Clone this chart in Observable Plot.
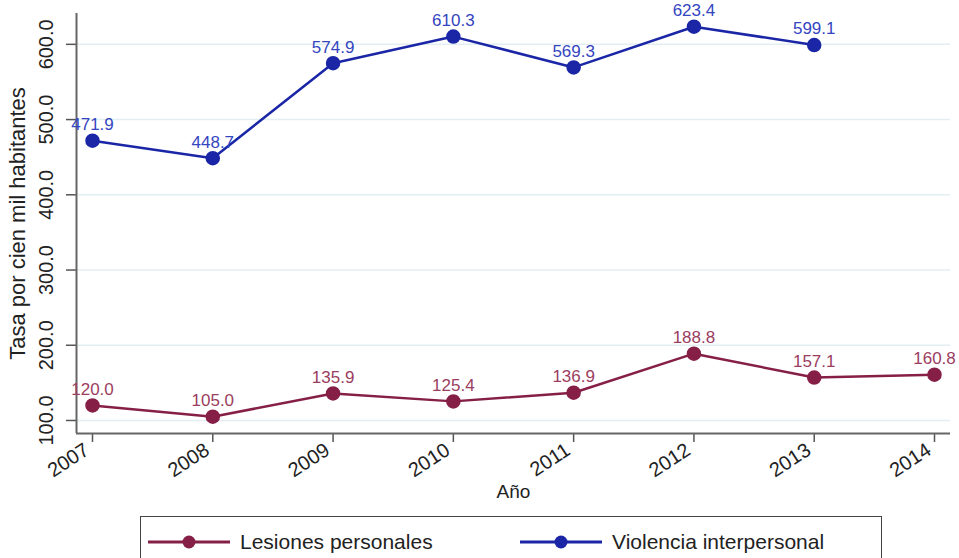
<!DOCTYPE html>
<html><head><meta charset="utf-8">
<script src="https://cdn.jsdelivr.net/npm/d3@7"></script>
<script src="https://cdn.jsdelivr.net/npm/@observablehq/plot@0.6"></script>
<style>
body{margin:0;background:#fff;font-family:"Liberation Sans",Arial,sans-serif;}
#legend{position:relative;margin-left:140px;width:742px;height:60px;border:1.5px solid #444;border-bottom:none;margin-top:4px;box-sizing:border-box;}
.item{position:absolute;top:13px;display:flex;align-items:center;font-size:21px;color:#222;}
.item svg{margin-right:10px;}
</style></head>
<body>
<div id="chart"></div>
<div id="legend"></div>
<script>
const years = [2007, 2008, 2009, 2010, 2011, 2012, 2013, 2014];
const lesiones = [120.0, 105.0, 135.9, 125.4, 136.9, 188.8, 157.1, 160.8];
const violenciaYears = [2007, 2008, 2009, 2010, 2011, 2012, 2013];
const violencia = [471.9, 448.7, 574.9, 610.3, 569.3, 623.4, 599.1];
const yTicks = [100, 200, 300, 400, 500, 600];
const seriesNames = ["Lesiones personales", "Violencia interpersonal"];
const lineColors = ["#861f46", "#1a26a6"];
const labelColors = ["#9b3d60", "#3445c0"];

const les = years.map((y, i) => ({year: y, value: lesiones[i]}));
const vio = violenciaYears.map((y, i) => ({year: y, value: violencia[i]}));

const xDomain = [2006.867, 2014.133];
const yDomain = [82.7, 641];

const chart = Plot.plot({
  width: 959,
  height: 512,
  marginLeft: 76,
  marginRight: 9,
  marginTop: 13,
  marginBottom: 79,
  style: {fontFamily: '"Liberation Sans", Arial, sans-serif', background: "#fff"},
  x: {domain: xDomain},
  y: {domain: yDomain},
  marks: [
    Plot.ruleY(yTicks, {stroke: "#e3eef2", strokeWidth: 1.5}),
    Plot.axisY({ticks: yTicks, tickSize: 10, tickFormat: () => "", stroke: "#555", strokeWidth: 1.5, label: null}),
    Plot.axisX({ticks: years, tickSize: 9, tickFormat: () => "", stroke: "#555", strokeWidth: 1.5, label: null}),
    Plot.ruleY([yDomain[0]], {stroke: "#666", strokeWidth: 2}),
    Plot.ruleX([xDomain[0]], {stroke: "#666", strokeWidth: 2}),
    Plot.text(yTicks, {y: d => d, text: d => d.toFixed(1), frameAnchor: "left", dx: -30, rotate: -90, textAnchor: "middle", fontSize: 20, fill: "#222"}),
    Plot.text(years, {x: d => d, text: d => String(d), frameAnchor: "bottom", dx: -2, dy: 20, rotate: -33, textAnchor: "end", fontSize: 20, fill: "#222"}),
    Plot.text(["Tasa por cien mil habitantes"], {frameAnchor: "left", dx: -59, rotate: -90, textAnchor: "middle", fontSize: 22, fill: "#222"}),
    Plot.text(["Año"], {frameAnchor: "bottom", dy: 64, textAnchor: "middle", fontSize: 19, fill: "#222"}),
    Plot.line(les, {x: "year", y: "value", stroke: lineColors[0], strokeWidth: 2.5}),
    Plot.dot(les, {x: "year", y: "value", r: 6.5, fill: lineColors[0], stroke: lineColors[0]}),
    Plot.text(les, {x: "year", y: "value", text: d => d.value.toFixed(1), dy: -16, fontSize: 17, fill: labelColors[0]}),
    Plot.line(vio, {x: "year", y: "value", stroke: lineColors[1], strokeWidth: 2.5}),
    Plot.dot(vio, {x: "year", y: "value", r: 6.5, fill: lineColors[1], stroke: lineColors[1]}),
    Plot.text(vio, {x: "year", y: "value", text: d => d.value.toFixed(1), dy: -16, fontSize: 17, fill: labelColors[1]})
  ]
});
document.getElementById("chart").appendChild(chart);

const legend = document.getElementById("legend");
const lefts = [7, 379];
seriesNames.forEach((name, i) => {
  const div = document.createElement("div");
  div.className = "item";
  div.style.left = lefts[i] + "px";
  div.innerHTML = `<svg width="82" height="16"><line x1="0" x2="82" y1="8" y2="8" stroke="${lineColors[i]}" stroke-width="3"/><circle cx="41" cy="8" r="6.5" fill="${lineColors[i]}"/></svg><span>${name}</span>`;
  legend.appendChild(div);
});
</script>
</body></html>
